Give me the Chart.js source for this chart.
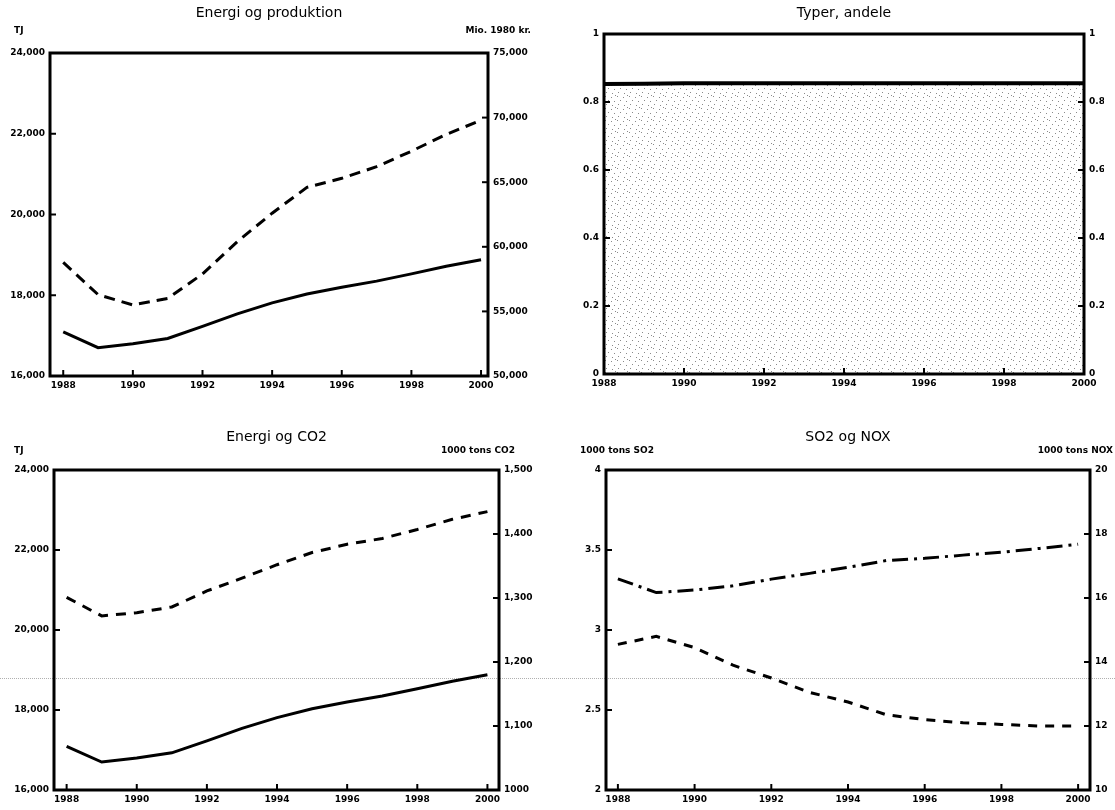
<!DOCTYPE html>
<html>
<head>
<meta charset="utf-8">
<title>Energi, produktion og emissioner</title>
<script src="https://cdn.jsdelivr.net/npm/chart.js@4.4.0/dist/chart.umd.min.js"></script>
<style>
  body { margin: 0; background: #fff; }
  #wrap { position: relative; width: 1115px; height: 810px; overflow: hidden; }
  #wrap canvas { position: absolute; }
  #scanline { position: absolute; left: 0; top: 678px; width: 1115px; border-top: 1px dotted #b0b0b0; }
</style>
</head>
<body>
<div id="wrap">
  <div id="scanline"></div>
  <canvas id="energyProd" width="557" height="405" style="left:0;top:0"></canvas>
  <canvas id="shares" width="557" height="405" style="left:557px;top:0"></canvas>
  <canvas id="energyCo2" width="557" height="405" style="left:0;top:405px"></canvas>
  <canvas id="so2Nox" width="557" height="405" style="left:557px;top:405px"></canvas>
</div>
<script>
// data
const years = [1988, 1989, 1990, 1991, 1992, 1993, 1994, 1995, 1996, 1997, 1998, 1999, 2000];
const yearTicks = [1988, 1990, 1992, 1994, 1996, 1998, 2000];

const energyTJ = [17090, 16700, 16800, 16930, 17230, 17540, 17810, 18030, 18200, 18350, 18530, 18720, 18880];
const production = [58800, 56300, 55500, 56000, 57900, 60400, 62600, 64600, 65300, 66200, 67400, 68700, 69800];
const shares = [0.853, 0.854, 0.855, 0.855, 0.855, 0.855, 0.855, 0.855, 0.855, 0.855, 0.855, 0.855, 0.855];
const co2 = [1301, 1272, 1277, 1286, 1311, 1331, 1352, 1371, 1384, 1393, 1407, 1423, 1435];
const so2 = [2.91, 2.96, 2.89, 2.78, 2.70, 2.61, 2.55, 2.47, 2.44, 2.42, 2.41, 2.40, 2.40];
const nox = [16.60, 16.17, 16.25, 16.38, 16.59, 16.77, 16.96, 17.17, 17.24, 17.34, 17.43, 17.55, 17.68];

// tick values and labels
const tjTicks = [16000, 18000, 20000, 22000, 24000];
const tjLabels = ['16,000', '18,000', '20,000', '22,000', '24,000'];
const prodTicks = [50000, 55000, 60000, 65000, 70000, 75000];
const prodLabels = ['50,000', '55,000', '60,000', '65,000', '70,000', '75,000'];
const shareTicks = [0, 0.2, 0.4, 0.6, 0.8, 1];
const shareLabels = ['0', '0.2', '0.4', '0.6', '0.8', '1'];
const co2Ticks = [1000, 1100, 1200, 1300, 1400, 1500];
const co2Labels = ['1000', '1,100', '1,200', '1,300', '1,400', '1,500'];
const so2Ticks = [2, 2.5, 3, 3.5, 4];
const so2Labels = ['2', '2.5', '3', '3.5', '4'];
const noxTicks = [10, 12, 14, 16, 18, 20];
const noxLabels = ['10', '12', '14', '16', '18', '20'];

const tickFont = { family: '"DejaVu Sans", sans-serif', size: 9, weight: 'bold' };

// frame, inward tick marks, title and unit labels
const decor = {
    id: 'decor',
    afterDraw(chart, args, opts) {
        const { ctx, chartArea: a } = chart;
        ctx.save();
        ctx.strokeStyle = '#000';
        ctx.lineWidth = 2;
        Object.values(chart.scales).forEach(s => {
            s.ticks.forEach(t => {
                const p = s.getPixelForValue(t.value);
                ctx.beginPath();
                if (s.axis === 'x') { ctx.moveTo(p, a.bottom); ctx.lineTo(p, a.bottom - 6); }
                else if (s.position === 'left') { ctx.moveTo(a.left, p); ctx.lineTo(a.left + 6, p); }
                else { ctx.moveTo(a.right, p); ctx.lineTo(a.right - 6, p); }
                ctx.stroke();
            });
        });
        ctx.lineWidth = 3;
        ctx.strokeRect(a.left, a.top, a.right - a.left, a.bottom - a.top);

        ctx.fillStyle = '#000';
        ctx.textBaseline = 'middle';
        ctx.font = '14px "DejaVu Sans", sans-serif';
        ctx.textAlign = 'center';
        ctx.fillText(opts.title, (a.left + a.right) / 2, a.top - opts.titleGap);
        ctx.font = 'bold 9px "DejaVu Sans", sans-serif';
        if (opts.leftUnit) {
            ctx.textAlign = 'left';
            ctx.fillText(opts.leftUnit, a.left + opts.leftX, a.top - opts.unitGap);
        }
        if (opts.rightUnit) {
            ctx.textAlign = 'right';
            ctx.fillText(opts.rightUnit, a.right + opts.rightX, a.top - opts.unitGap);
        }
        ctx.restore();
    }
};

function xAxis(min, max) {
    return {
        type: 'linear', min, max,
        afterBuildTicks: s => { s.ticks = yearTicks.map(v => ({ value: v })); },
        afterFit: s => { s.height = 20; },
        ticks: { callback: v => String(v), font: tickFont, color: '#000', padding: 4, maxRotation: 0, autoSkip: false },
        grid: { display: false, drawTicks: false },
        border: { display: false }
    };
}

function yAxis(position, min, max, values, labels, width) {
    return {
        position, min, max,
        afterBuildTicks: s => { s.ticks = values.map(v => ({ value: v })); },
        afterFit: s => { s.width = width; },
        ticks: { callback: (v, i) => labels[i], font: tickFont, color: '#000', padding: 5 },
        grid: { display: false, drawTicks: false },
        border: { display: false }
    };
}

function series(label, values, axis, dash, extra) {
    return Object.assign({
        label,
        data: years.map((yr, i) => ({ x: yr, y: values[i] })),
        yAxisID: axis,
        borderColor: '#000',
        borderWidth: 3,
        borderDash: dash,
        pointRadius: 0,
        tension: 0,
        fill: false
    }, extra || {});
}

function panel(id, datasets, scales, padding, decorOpts) {
    return new Chart(document.getElementById(id), {
        type: 'line',
        data: { datasets },
        options: {
            responsive: false,
            animation: false,
            layout: { padding },
            scales,
            plugins: { legend: { display: false }, decor: decorOpts }
        },
        plugins: [decor]
    });
}

// sparse stippled fill for the share area
function stipple() {
    const p = document.createElement('canvas');
    p.width = 12; p.height = 12;
    const g = p.getContext('2d');
    g.fillStyle = '#fff';
    g.fillRect(0, 0, 12, 12);
    g.fillStyle = '#8a8a8a';
    [[0, 0], [6, 1], [3, 4], [9, 5], [1, 8], [7, 9], [10, 11]].forEach(([a, b]) => g.fillRect(a, b, 1, 1));
    return g.createPattern(p, 'repeat');
}

panel('energyProd',
    [series('Energi (TJ)', energyTJ, 'y', []),
     series('Produktion (Mio. 1980 kr.)', production, 'y2', [11, 7])],
    {
        x: xAxis(1987.62, 2000.2),
        y: yAxis('left', 16000, 24000, tjTicks, tjLabels, 44),
        y2: yAxis('right', 50000, 75000, prodTicks, prodLabels, 55)
    },
    { left: 6, right: 14, top: 53, bottom: 9 },
    { title: 'Energi og produktion', titleGap: 40, leftUnit: 'TJ', leftX: -36, rightUnit: 'Mio. 1980 kr.', rightX: 43, unitGap: 22 });

panel('shares',
    [series('Andel', shares, 'y', [], { borderWidth: 4, fill: 'origin', backgroundColor: stipple() })],
    {
        x: xAxis(1988, 2000),
        y: yAxis('left', 0, 1, shareTicks, shareLabels, 40),
        y2: yAxis('right', 0, 1, shareTicks, shareLabels, 20)
    },
    { left: 7, right: 10, top: 34, bottom: 11 },
    { title: 'Typer, andele', titleGap: 21 });

panel('energyCo2',
    [series('Energi (TJ)', energyTJ, 'y', []),
     series('CO2 (1000 tons)', co2, 'y2', [10, 8])],
    {
        x: xAxis(1987.64, 2000.33),
        y: yAxis('left', 16000, 24000, tjTicks, tjLabels, 46),
        y2: yAxis('right', 1000, 1500, co2Ticks, co2Labels, 45)
    },
    { left: 8, right: 13, top: 65, bottom: 0 },
    { title: 'Energi og CO2', titleGap: 33, leftUnit: 'TJ', leftX: -40, rightUnit: '1000 tons CO2', rightX: 16, unitGap: 19 });

panel('so2Nox',
    [series('SO2 (1000 tons)', so2, 'y', [9, 8]),
     series('NOX (1000 tons)', nox, 'y2', [16, 6, 3, 6])],
    {
        x: xAxis(1987.69, 2000.31),
        y: yAxis('left', 2, 4, so2Ticks, so2Labels, 30),
        y2: yAxis('right', 10, 20, noxTicks, noxLabels, 22)
    },
    { left: 19, right: 2, top: 65, bottom: 0 },
    { title: 'SO2 og NOX', titleGap: 33, leftUnit: '1000 tons SO2', leftX: -26, rightUnit: '1000 tons NOX', rightX: 23, unitGap: 19 });
</script>
</body>
</html>
